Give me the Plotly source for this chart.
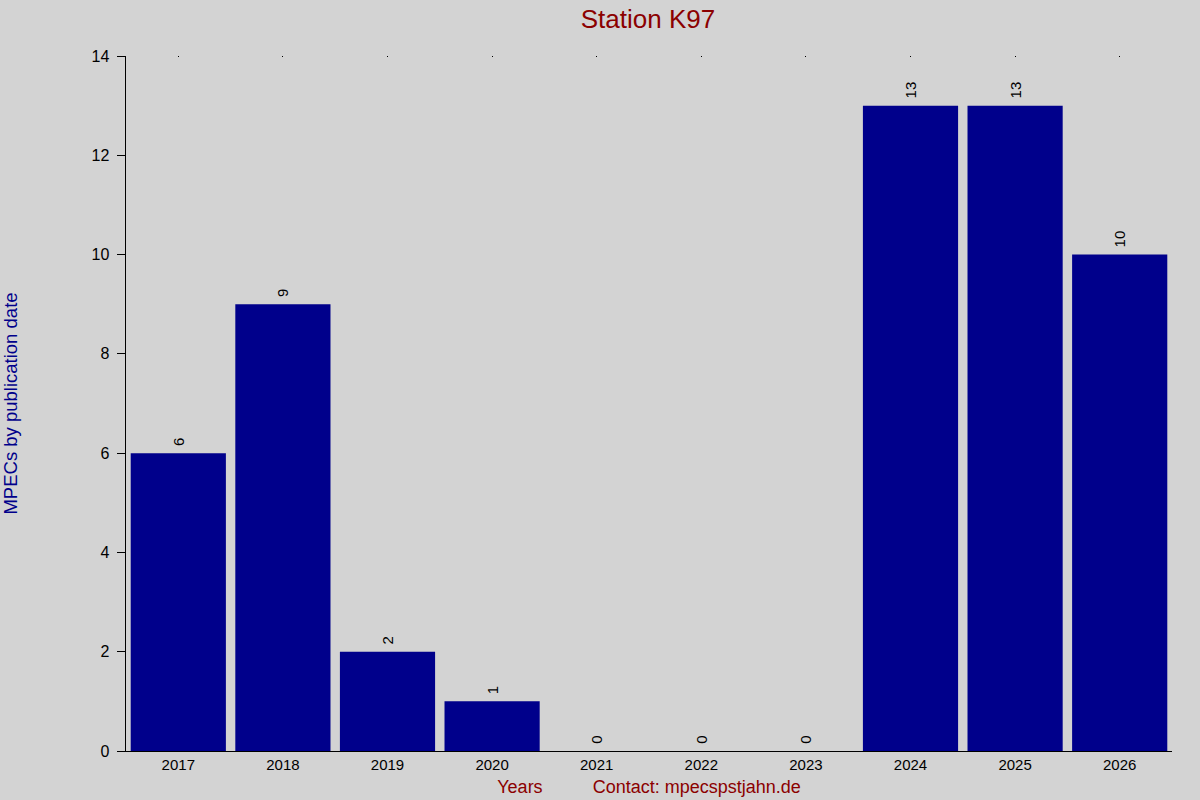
import plotly.graph_objects as go

years = ["2017", "2018", "2019", "2020", "2021", "2022", "2023", "2024", "2025", "2026"]
mpecs = [6, 9, 2, 1, 0, 0, 0, 13, 13, 10]
y_ticks = [0, 2, 4, 6, 8, 10, 12, 14]

fig = go.Figure()
fig.add_trace(go.Bar(
    x=years, y=mpecs,
    marker=dict(color="#00008B", line=dict(width=0)),
    # leading nbsp gives the rotated labels a little air above the bars
    text=["\u00a0" + str(v) for v in mpecs],
    textposition="outside", textangle=-90,
    textfont=dict(family="Liberation Sans, Arial", size=15, color="black"),
    cliponaxis=False,
))
# invisible trace so the top axis draws its small dots
fig.add_trace(go.Scatter(x=years, y=mpecs, xaxis="x2", mode="lines",
                         line=dict(width=0), opacity=0, hoverinfo="skip", showlegend=False))

fig.update_layout(
    width=1200, height=800,
    paper_bgcolor="#D3D3D3", plot_bgcolor="#D3D3D3",
    margin=dict(l=126, r=28, t=56, b=49),
    bargap=0.09,
    showlegend=False,
    font=dict(family="Liberation Sans, Arial", size=15, color="black"),
    title=dict(text="Station K97", x=0.54, xanchor="center", y=0.977, yanchor="middle",
               font=dict(size=26, color="#8B0000")),
    xaxis=dict(
        type="category", range=[-0.5, len(years) - 0.5],
        showgrid=False, showline=True, linecolor="black", linewidth=1,
        ticks="", tickfont=dict(size=15), automargin=False,
        title=dict(text="Years" + "\u00a0" * 10 + "Contact: mpecspstjahn.de",
                   font=dict(size=18, color="#8B0000"), standoff=8),
    ),
    xaxis2=dict(
        type="category", overlaying="x", side="top", matches="x",
        showgrid=False, showline=False, showticklabels=False,
        ticks="inside", ticklen=1, tickcolor="black", automargin=False,
    ),
    yaxis=dict(
        range=[0, 14], tickvals=y_ticks, ticktext=[f"{v}\u00a0" for v in y_ticks],
        tickfont=dict(size=16),
        showgrid=False, zeroline=False,
        showline=True, linecolor="black", linewidth=1, automargin=False,
        ticks="outside", ticklen=8, tickcolor="black",
        title=dict(text="MPECs by publication date", font=dict(size=18.5, color="#00008B"),
                   standoff=82),
    ),
)

fig.write_html("out.html", config={"displayModeBar": False})

# drop the page margin so the figure sits at the window's corner
with open("out.html", encoding="utf-8") as f:
    page = f.read()
page = page.replace("<body>", '<body style="margin:0;">', 1)
with open("out.html", "w", encoding="utf-8") as f:
    f.write(page)
